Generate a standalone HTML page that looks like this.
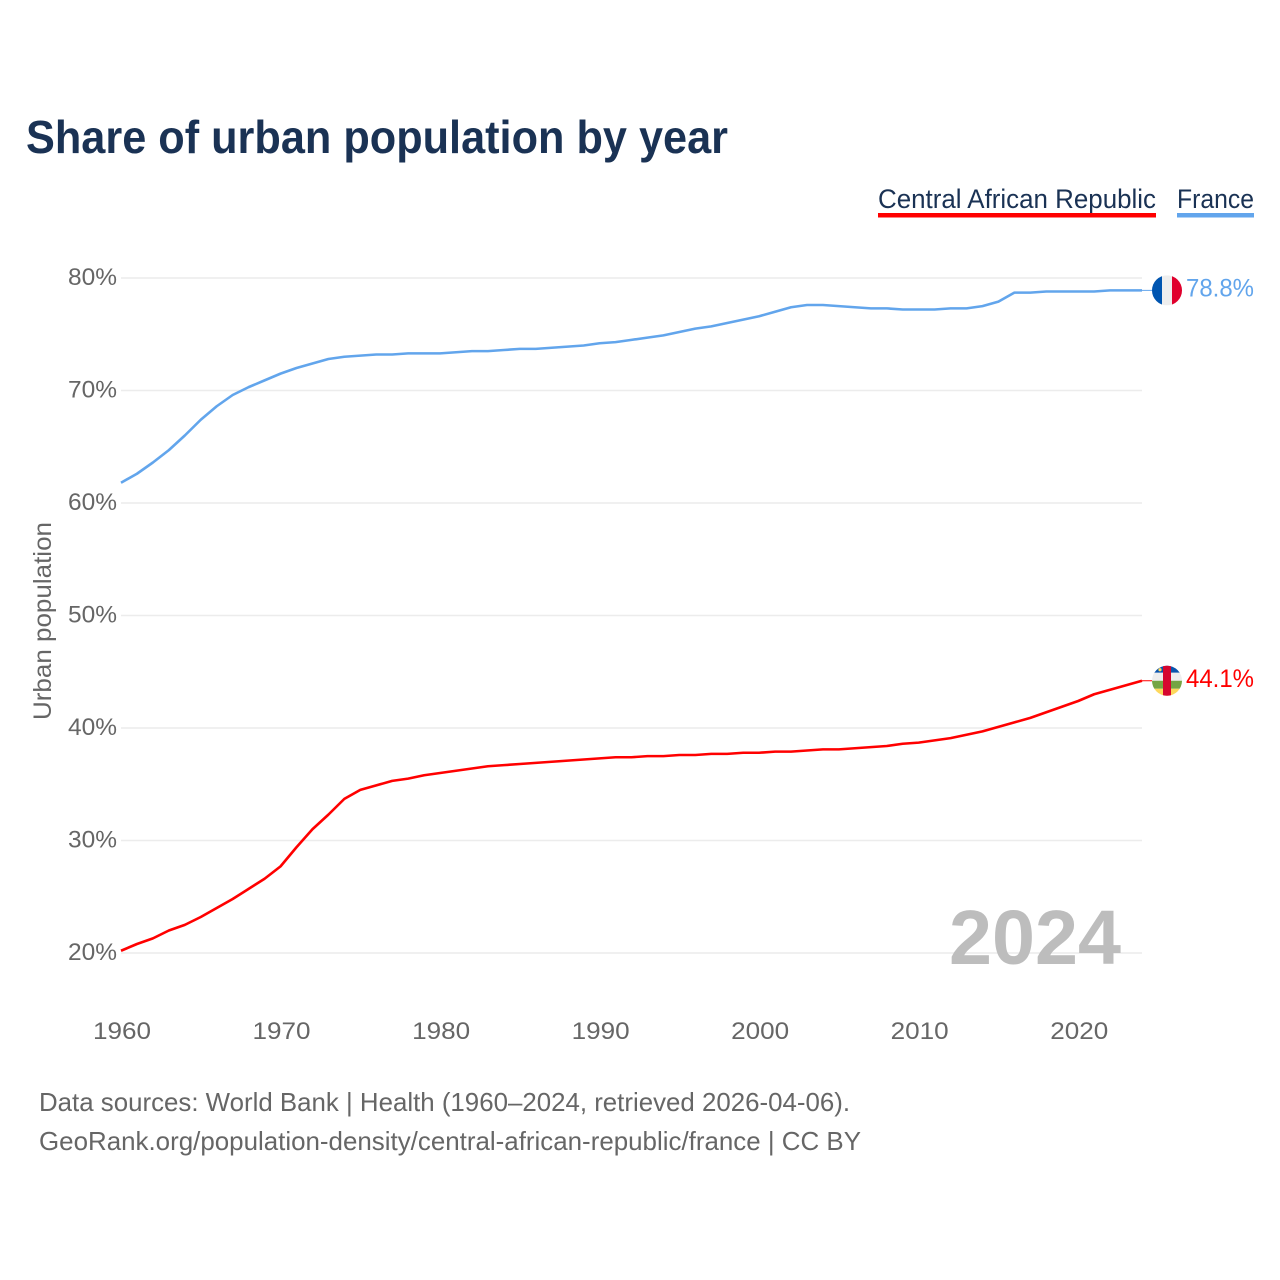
<!DOCTYPE html>
<html lang="en">
<head>
<meta charset="utf-8">
<title>Share of urban population by year</title>
<style>
html,body{margin:0;padding:0;background:#fff;}
svg{display:block;font-family:"Liberation Sans",sans-serif;}
</style>
</head>
<body>
<svg id="chart" xmlns="http://www.w3.org/2000/svg" width="1280" height="1280" viewBox="0 0 1280 1280">
  <defs>
    <clipPath id="clip-fr"><circle cx="0" cy="0" r="15"/></clipPath>
    <clipPath id="clip-car"><circle cx="0" cy="0" r="15"/></clipPath>
  </defs>
  <rect width="1280" height="1280" fill="#fff"/>
  <text x="26" y="153" font-size="46" font-weight="700" fill="#1a3254" textLength="702" lengthAdjust="spacingAndGlyphs">Share of urban population by year</text>

  <g>
    <text x="878" y="208" font-size="27" fill="#1a3254" textLength="278" lengthAdjust="spacingAndGlyphs">Central African Republic</text>
    <rect x="878" y="213" width="278" height="4.5" fill="#ff0000"/>
  </g>
  <g>
    <text x="1177" y="208" font-size="27" fill="#1a3254" textLength="77" lengthAdjust="spacingAndGlyphs">France</text>
    <rect x="1177" y="213" width="77" height="4.5" fill="#62a5ec"/>
  </g>

  <g id="grid"></g>
  <g id="yticks"></g>
  <g id="xticks"></g>
  <text transform="translate(51,621) rotate(-90)" text-anchor="middle" font-size="25" fill="#666" textLength="198" lengthAdjust="spacingAndGlyphs">Urban population</text>

  <text x="949" y="964" font-size="77" font-weight="700" fill="#bdbdbd" textLength="172" lengthAdjust="spacingAndGlyphs">2024</text>

  <g id="series"></g>

  <g id="flag-fr" clip-path="url(#clip-fr)">
    <rect x="-15" y="-15" width="30" height="30" fill="#eeeeee"/>
    <rect x="-15" y="-15" width="10" height="30" fill="#0055b0"/>
    <rect x="5" y="-15" width="10" height="30" fill="#e0002d"/>
  </g>
  <g id="flag-car" clip-path="url(#clip-car)">
    <rect x="-15" y="-16" width="30" height="8" fill="#0a55ad"/>
    <rect x="-15" y="-8" width="30" height="8" fill="#eeeeee"/>
    <rect x="-15" y="0" width="30" height="8" fill="#74a544"/>
    <rect x="-15" y="8" width="30" height="8" fill="#fdd85d"/>
    <rect x="-4" y="-16" width="8" height="32" fill="#d6062f"/>
    <circle cx="-7" cy="-11" r="1.6" fill="#fdd85d"/>
  </g>
  <text id="label-fr" x="1186" font-size="25" fill="#62a5ec" textLength="68" lengthAdjust="spacingAndGlyphs">78.8%</text>
  <text id="label-car" x="1186" font-size="25" fill="#ff0000" textLength="68" lengthAdjust="spacingAndGlyphs">44.1%</text>

  <text x="39" y="1111" font-size="26" fill="#666" textLength="811" lengthAdjust="spacingAndGlyphs">Data sources: World Bank | Health (1960–2024, retrieved 2026-04-06).</text>
  <text x="39" y="1150" font-size="26" fill="#666" textLength="822" lengthAdjust="spacingAndGlyphs">GeoRank.org/population-density/central-african-republic/france | CC BY</text>
</svg>
<script>
const firstYear = 1960;
const lastYear = 2024;
const yTickValues = [20, 30, 40, 50, 60, 70, 80];
const xTickYears = [1960, 1970, 1980, 1990, 2000, 2010, 2020];
const franceValues = [
  61.8, 62.6, 63.6, 64.7, 66.0, 67.4, 68.6, 69.6, 70.3, 70.9,
  71.5, 72.0, 72.4, 72.8, 73.0, 73.1, 73.2, 73.2, 73.3, 73.3,
  73.3, 73.4, 73.5, 73.5, 73.6, 73.7, 73.7, 73.8, 73.9, 74.0,
  74.2, 74.3, 74.5, 74.7, 74.9, 75.2, 75.5, 75.7, 76.0, 76.3,
  76.6, 77.0, 77.4, 77.6, 77.6, 77.5, 77.4, 77.3, 77.3, 77.2,
  77.2, 77.2, 77.3, 77.3, 77.5, 77.9, 78.7, 78.7, 78.8, 78.8,
  78.8, 78.8, 78.9, 78.9, 78.9
];
const carValues = [
  20.2, 20.8, 21.3, 22.0, 22.5, 23.2, 24.0, 24.8, 25.7, 26.6,
  27.7, 29.4, 31.0, 32.3, 33.7, 34.5, 34.9, 35.3, 35.5, 35.8,
  36.0, 36.2, 36.4, 36.6, 36.7, 36.8, 36.9, 37.0, 37.1, 37.2,
  37.3, 37.4, 37.4, 37.5, 37.5, 37.6, 37.6, 37.7, 37.7, 37.8,
  37.8, 37.9, 37.9, 38.0, 38.1, 38.1, 38.2, 38.3, 38.4, 38.6,
  38.7, 38.9, 39.1, 39.4, 39.7, 40.1, 40.5, 40.9, 41.4, 41.9,
  42.4, 43.0, 43.4, 43.8, 44.2
];

const NS = 'http://www.w3.org/2000/svg';
const plotLeft = 121;
const plotRight = 1142;
const y20 = 953;
const y80 = 278;
function xScale(year) {
  return plotLeft + (year - firstYear) * (plotRight - plotLeft) / (lastYear - firstYear);
}
function yScale(v) {
  return y20 - (v - 20) * (y20 - y80) / 60;
}

const grid = document.getElementById('grid');
const yticks = document.getElementById('yticks');
yTickValues.forEach(function (v) {
  const line = document.createElementNS(NS, 'line');
  
  
  line.setAttribute('x1', plotLeft);
  line.setAttribute('x2', plotRight);
  line.setAttribute('y1', yScale(v));
  line.setAttribute('y2', yScale(v));
  line.setAttribute('stroke', '#ececec');
  line.setAttribute('stroke-width', '1.5');
  grid.appendChild(line);

  const t = document.createElementNS(NS, 'text');
  
  
  t.setAttribute('x', 68);
  t.setAttribute('y', yScale(v) + 7);
  t.setAttribute('font-size', '24');
  t.setAttribute('fill', '#666');
  t.setAttribute('textLength', '49');
  t.setAttribute('lengthAdjust', 'spacingAndGlyphs');
  t.textContent = v + '%';
  yticks.appendChild(t);
});

const xticks = document.getElementById('xticks');
xTickYears.forEach(function (year) {
  const t = document.createElementNS(NS, 'text');
  
  
  t.setAttribute('x', xScale(year) - 28);
  t.setAttribute('y', 1039);
  t.setAttribute('font-size', '24');
  t.setAttribute('fill', '#666');
  t.setAttribute('textLength', '58');
  t.setAttribute('lengthAdjust', 'spacingAndGlyphs');
  t.textContent = year;
  xticks.appendChild(t);
});

const seriesGroup = document.getElementById('series');
function drawLine(values, color, name) {
  const pts = values.map(function (v, i) {
    return xScale(firstYear + i).toFixed(2) + ',' + yScale(v).toFixed(2);
  }).join(' ');
  const poly = document.createElementNS(NS, 'polyline');
  
  
  poly.setAttribute('points', pts);
  poly.setAttribute('fill', 'none');
  poly.setAttribute('stroke', color);
  poly.setAttribute('stroke-width', '2.6');
  poly.setAttribute('stroke-linejoin', 'round');
  seriesGroup.appendChild(poly);

  const endY = yScale(values[values.length - 1]);
  const conn = document.createElementNS(NS, 'line');
  
  
  conn.setAttribute('x1', plotRight);
  conn.setAttribute('x2', 1152);
  conn.setAttribute('y1', endY);
  conn.setAttribute('y2', endY);
  conn.setAttribute('stroke', color);
  conn.setAttribute('stroke-width', '1');
  seriesGroup.appendChild(conn);
  return endY;
}
const carEnd = drawLine(carValues, '#ff0000', 'central-african-republic');
const frEnd = drawLine(franceValues, '#62a5ec', 'france');

document.getElementById('flag-fr').setAttribute('transform', 'translate(1167,' + frEnd + ')');
document.getElementById('flag-car').setAttribute('transform', 'translate(1167,' + carEnd + ')');
document.getElementById('label-fr').setAttribute('y', frEnd + 6);
document.getElementById('label-car').setAttribute('y', carEnd + 6);
</script>
</body>
</html>
